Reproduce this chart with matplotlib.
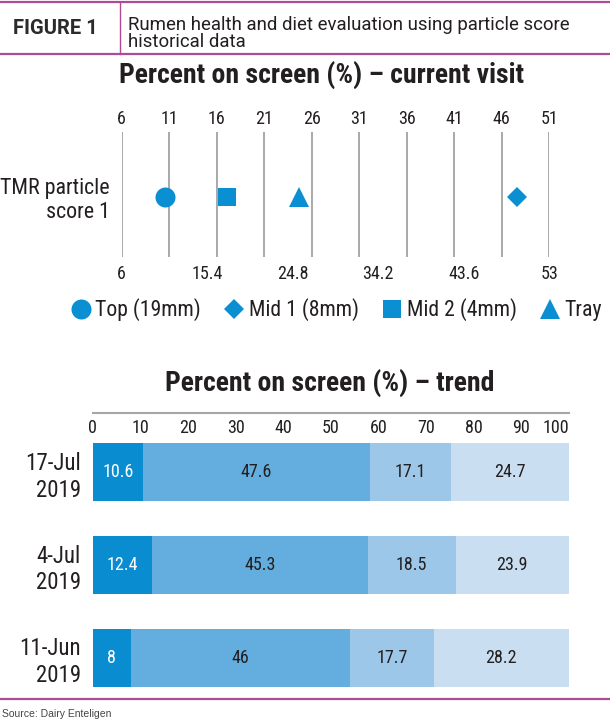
import numpy as np
import matplotlib
matplotlib.use('Agg')
import matplotlib.pyplot as plt
from matplotlib.lines import Line2D

# particle sizes and current visit values (% on screen)
size_labels = ['Top (19mm)', 'Mid 1 (8mm)', 'Mid 2 (4mm)', 'Tray']
current_visit = [10.6, 47.6, 17.1, 24.7]
row_label = ['TMR particle\nscore 1']
top_ticks = [6, 11, 16, 21, 26, 31, 36, 41, 46, 51]
bottom_ticks = [6, 15.4, 24.8, 34.2, 43.6, 53]

# trend
visit_dates = ['17-Jul\n2019', '4-Jul\n2019', '11-Jun\n2019']
top_pct = [10.6, 12.4, 8]
mid1_pct = [47.6, 45.3, 46]
mid2_pct = [17.1, 18.5, 17.7]
tray_pct = [24.7, 23.9, 28.2]
trend_ticks = [0, 10, 20, 30, 40, 50, 60, 70, 80, 90, 100]

W, H = 610, 721
BLUE = '#0a8fd2'
MAGENTA = '#b04a92'
TXT = '#231f20'
bar_colors = ['#0a8dd0', '#63aedf', '#9dc7e8', '#c9def1']
text_colors = ['white', TXT, TXT, TXT]
marker_style = {'Top (19mm)': ('o', 14.4), 'Mid 1 (8mm)': ('D', 10.2),
                'Mid 2 (4mm)': ('s', 13), 'Tray': ('^', 15)}

plt.rcParams['font.family'] = ['Roboto Condensed', 'DejaVu Sans']
plt.rcParams['text.color'] = TXT

fig = plt.figure(figsize=(W / 100, H / 100), dpi=100)


def fx(px):
    return px / W


def fy(py):
    return 1 - py / H


# ---- header
for y in [1.7, 54.3]:
    fig.add_artist(Line2D([0, 1], [fy(y)] * 2, color=MAGENTA, lw=1.6, transform=fig.transFigure))
fig.add_artist(Line2D([fx(120)] * 2, [fy(1.7), fy(54.3)], color=MAGENTA, lw=1.0, transform=fig.transFigure))
fig.add_artist(Line2D([0, 1], [fy(699)] * 2, color=MAGENTA, lw=1.6, transform=fig.transFigure))
fig.text(fx(12.7), fy(28.3), 'FIGURE 1', family='Roboto', weight='bold', size=14.5,
         color='#2b2b2b', ha='left', va='center')
fig.text(fx(127.7), fy(25), 'Rumen health and diet evaluation using particle score',
         family='Roboto', size=13.4, color=TXT, ha='left', va='center')
fig.text(fx(127.7), fy(42), 'historical data', family='Roboto', size=13.4, color=TXT,
         ha='left', va='center')

# ---- current visit
fig.text(fx(321.5), fy(75), 'Percent on screen (%) \u2013 current visit', weight='bold',
         size=20, ha='center', va='center')
ax1 = fig.add_axes([fx(121.7), fy(256.7), fx(427.6), (256.7 - 131.7) / H])
handles = []
for lab, val in zip(size_labels, current_visit):
    m, ms = marker_style[lab]
    h, = ax1.plot([val], [0], linestyle='none', marker=m, markersize=ms, color=BLUE,
                  markeredgewidth=0, label=lab, clip_on=False, zorder=3)
    handles.append(h)
ax1.set_xlim(6, 51)
ax1.set_ylim(-0.96, 1.04)
ax1.set_xticks(top_ticks)
ax1.xaxis.set_ticks_position('top')
ax1.tick_params(axis='x', length=0, pad=3, labelsize=13, labelcolor=TXT)
ax1.grid(axis='x', color='#a3a3a3', lw=1.3)
ax1.set_yticks([0])
ax1.set_yticklabels(row_label)
ax1.tick_params(axis='y', length=0, pad=8.4, labelsize=15.8, labelcolor=TXT)
for s in ax1.spines.values():
    s.set_visible(False)

sec = ax1.secondary_xaxis('bottom', functions=(lambda t: 6 + (t - 6) * 47 / 45,
                                               lambda b: 6 + (b - 6) * 45 / 47))
sec.set_xticks(bottom_ticks)
sec.set_xticklabels(['%g' % t for t in bottom_ticks])
sec.tick_params(length=0, pad=6, labelsize=13, labelcolor=TXT)
sec.spines['bottom'].set_visible(False)

fig.legend(handles=handles, loc='center', bbox_to_anchor=(fx(337), fy(310)), ncol=4,
           frameon=False, fontsize=15.7, handlelength=0.8, handletextpad=0.25,
           columnspacing=1.15, borderpad=0, borderaxespad=0)

# ---- trend
fig.text(fx(330), fy(383), 'Percent on screen (%) \u2013 trend', weight='bold',
         size=20, ha='center', va='center')
ax2 = fig.add_axes([fx(92.7), fy(704), fx(476.3), (704 - 413) / H])
ypos = np.arange(len(visit_dates))
left = np.zeros(len(visit_dates))
for vals, c, tc in zip([top_pct, mid1_pct, mid2_pct, tray_pct], bar_colors, text_colors):
    bars = ax2.barh(ypos, vals, left=left, height=0.626, color=c, edgecolor='none')
    ax2.bar_label(bars, labels=['%g' % v for v in vals], label_type='center',
                  color=tc, fontsize=13)
    left += np.array(vals)
ax2.set_xlim(0, 100)
ax2.set_ylim(2.5, -0.642)
ax2.set_yticks(ypos)
ax2.set_yticklabels(visit_dates)
ax2.tick_params(axis='y', length=0, pad=8.4, labelsize=16.5, labelcolor=TXT)
ax2.set_xticks(trend_ticks)
ax2.xaxis.set_ticks_position('top')
ax2.tick_params(axis='x', length=0, pad=-17, labelsize=13, labelcolor=TXT)
ax2.get_xticklabels()[-1].set_horizontalalignment('right')
for k in ['bottom', 'left', 'right']:
    ax2.spines[k].set_visible(False)
ax2.spines['top'].set_color('#a6a6a6')
ax2.spines['top'].set_linewidth(1.5)

fig.text(fx(2), fy(714.3), 'Source: Dairy Enteligen', family='Liberation Sans', size=7.5,
         color='#444444', ha='left', va='center')

fig.savefig('out.png', dpi=100)
